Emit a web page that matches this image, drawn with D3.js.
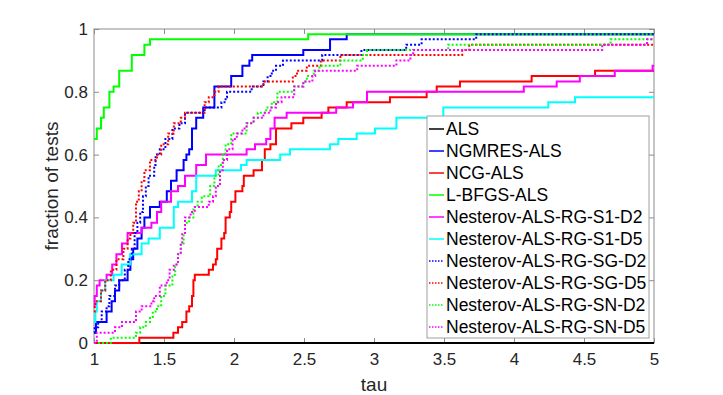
<!DOCTYPE html>
<meta charset="utf-8" />
<style>
  body { margin: 0; background: #fff; }
  text { font-family: "Liberation Sans", Arial, sans-serif; fill: #262626; }
  .tick text { font-size: 17px; }
  .tick line { stroke: #8c8c8c; }
  .domain { display: none; }
</style>
<svg width="723" height="395"></svg>
<script src="https://d3js.org/d3.v7.min.js"></script>
<script>
  // performance profile: [tau, fraction] step points, one array per solver
  var als = [[1, 0]];
  var ngmres = [[1, .033], [1.014, .067], [1.09, .10], [1.126, .133], [1.15, .167], [1.18, .20], [1.24, .233], [1.26, .267], [1.28, .30], [1.31, .333], [1.34, .367], [1.36, .40], [1.40, .433], [1.47, .45], [1.52, .483], [1.55, .517], [1.59, .55], [1.64, .583], [1.66, .60], [1.68, .617], [1.70, .683], [1.73, .717], [1.78, .75], [1.86, .817], [1.98, .85], [2.06, .883], [2.11, .90], [2.13, .917], [2.495, .933], [2.686, .967], [2.805, .983]];
  var ncg = [[1, 0], [1.324, .017], [1.567, .033], [1.60, .05], [1.63, .067], [1.66, .10], [1.68, .117], [1.70, .15], [1.71, .20], [1.72, .217], [1.82, .233], [1.85, .25], [1.87, .267], [1.88, .30], [1.91, .333], [1.93, .35], [1.94, .40], [1.97, .417], [1.98, .45], [2.01, .483], [2.06, .50], [2.07, .533], [2.14, .55], [2.20, .583], [2.22, .617], [2.26, .633], [2.30, .683], [2.41, .70], [2.495, .717], [2.626, .733], [2.674, .75], [2.805, .767], [3.114, .783], [3.376, .80], [3.448, .817], [3.614, .833], [4.126, .85], [4.579, .867]];
  var lbfgs = [[1, .65], [1.02, .683], [1.05, .717], [1.07, .75], [1.11, .80], [1.14, .817], [1.18, .867], [1.27, .917], [1.36, .95], [1.40, .967], [2.53, .983]];
  var s1d2 = [[1, .117], [1.005, .15], [1.02, .183], [1.04, .20], [1.09, .217], [1.13, .25], [1.16, .283], [1.20, .317], [1.24, .35], [1.34, .367], [1.41, .383], [1.45, .417], [1.48, .45], [1.55, .483], [1.60, .50], [1.65, .533], [1.73, .567], [1.80, .60], [2.09, .617], [2.15, .633], [2.23, .65], [2.26, .683], [2.29, .717], [2.376, .733], [2.73, .75], [2.85, .767], [2.95, .80], [4.07, .817], [4.305, .833], [4.47, .85], [4.72, .867], [4.99, .883]];
  var s1d5 = [[1, .067], [1.01, .10], [1.02, .133], [1.05, .167], [1.08, .20], [1.14, .217], [1.198, .25], [1.257, .283], [1.34, .317], [1.39, .333], [1.47, .367], [1.57, .433], [1.60, .45], [1.70, .483], [1.73, .533], [1.87, .55], [2.05, .567], [2.09, .583], [2.33, .60], [2.40, .617], [2.686, .633], [2.745, .65], [2.876, .667], [3.007, .683], [3.16, .717], [3.495, .75], [4.245, .767], [4.436, .783]];
  var sgd2 = [[1, .033], [1.005, .05], [1.03, .067], [1.055, .10], [1.09, .117], [1.11, .15], [1.15, .183], [1.18, .20], [1.22, .233], [1.245, .267], [1.27, .30], [1.29, .35], [1.31, .383], [1.33, .417], [1.35, .467], [1.37, .50], [1.39, .533], [1.43, .567], [1.44, .60], [1.47, .617], [1.51, .65], [1.56, .683], [1.61, .70], [1.65, .733], [1.79, .75], [1.91, .767], [1.94, .783], [1.95, .80], [2.126, .817], [2.21, .833], [2.24, .85], [2.27, .867], [2.30, .883], [2.35, .90], [2.63, .917], [2.91, .933], [3.23, .95], [3.34, .967], [3.73, .983]];
  var sgd5 = [[1, .10], [1.005, .117], [1.01, .133], [1.05, .167], [1.08, .20], [1.12, .233], [1.16, .267], [1.21, .30], [1.24, .333], [1.26, .35], [1.28, .383], [1.30, .45], [1.32, .483], [1.34, .517], [1.36, .55], [1.40, .583], [1.45, .60], [1.48, .633], [1.53, .667], [1.57, .70], [1.62, .717], [1.65, .733], [1.79, .767], [1.82, .783], [1.86, .80], [1.89, .817], [2.21, .833], [2.42, .85], [2.45, .867], [2.52, .883], [2.62, .90], [2.76, .917], [3.63, .933], [3.68, .95]];
  var snd2 = [[1, 0], [1.12, .017], [1.30, .033], [1.33, .05], [1.37, .067], [1.40, .083], [1.42, .10], [1.45, .117], [1.48, .15], [1.51, .183], [1.56, .217], [1.58, .25], [1.60, .283], [1.62, .317], [1.64, .35], [1.65, .383], [1.68, .40], [1.71, .433], [1.74, .45], [1.77, .467], [1.83, .50], [1.86, .533], [1.89, .567], [1.92, .60], [1.94, .633], [1.98, .667], [2.09, .70], [2.14, .717], [2.17, .733], [2.23, .75], [2.27, .767], [2.31, .80], [2.43, .817], [2.495, .833], [2.52, .85], [2.57, .867], [2.61, .883], [2.76, .90], [2.92, .917], [2.95, .933], [3.53, .95], [4.69, .967]];
  var snd5 = [[1, 0], [1.02, .033], [1.15, .05], [1.20, .067], [1.30, .10], [1.34, .117], [1.41, .133], [1.43, .15], [1.47, .183], [1.52, .20], [1.54, .233], [1.57, .25], [1.60, .283], [1.62, .317], [1.63, .35], [1.65, .40], [1.69, .417], [1.72, .433], [1.82, .45], [1.85, .467], [1.87, .50], [1.90, .55], [1.92, .583], [1.95, .617], [1.99, .65], [2.02, .667], [2.06, .683], [2.09, .70], [2.14, .717], [2.21, .733], [2.26, .75], [2.30, .767], [2.34, .783], [2.43, .817], [2.495, .833], [2.56, .85], [2.58, .867], [2.88, .883], [3.16, .90], [3.26, .917], [3.28, .933], [4.63, .95], [4.95, .967]];

  var names = ["ALS", "NGMRES-ALS", "NCG-ALS", "L-BFGS-ALS", "Nesterov-ALS-RG-S1-D2", "Nesterov-ALS-RG-S1-D5", "Nesterov-ALS-RG-SG-D2", "Nesterov-ALS-RG-SG-D5", "Nesterov-ALS-RG-SN-D2", "Nesterov-ALS-RG-SN-D5"];
  var colors = ["#000000", "#0000ff", "#ff0000", "#00ff00", "#ff00ff", "#00ffff", "#0000ff", "#ff0000", "#00ff00", "#ff00ff"];
  var dotted = [false, false, false, false, false, false, true, true, true, true];
  var profiles = [als, ngmres, ncg, lbfgs, s1d2, s1d5, sgd2, sgd5, snd2, snd5];

  var xTicks = [1, 1.5, 2, 2.5, 3, 3.5, 4, 4.5, 5];
  var yTicks = [0, 0.2, 0.4, 0.6, 0.8, 1];

  var svg = d3.select("svg");
  var plotL = 94, plotR = 654, plotT = 29, plotB = 343;

  var x = d3.scaleLinear().domain([1, 5]).range([plotL, plotR]);
  var y = d3.scaleLinear().domain([0, 1]).range([plotB, plotT]);

  svg.append("rect")
    .attr("x", plotL).attr("y", plotT)
    .attr("width", plotR - plotL).attr("height", plotB - plotT)
    .attr("fill", "none").attr("stroke", "#8c8c8c");

  svg.append("g").attr("transform", "translate(0," + plotB + ")")
    .call(d3.axisBottom(x).tickValues(xTicks).tickSize(-5).tickPadding(10).tickFormat(String));
  svg.append("g").attr("transform", "translate(0," + plotT + ")")
    .call(d3.axisTop(x).tickValues(xTicks).tickSize(-5).tickFormat(""));
  svg.append("g").attr("transform", "translate(" + plotL + ",0)")
    .call(d3.axisLeft(y).tickValues(yTicks).tickSize(-5).tickPadding(6).tickFormat(String));
  svg.append("g").attr("transform", "translate(" + plotR + ",0)")
    .call(d3.axisRight(y).tickValues(yTicks).tickSize(-5).tickFormat(""));

  var line = d3.line()
    .x(function (d) { return x(d[0]); })
    .y(function (d) { return y(d[1]); })
    .curve(d3.curveStepAfter);

  profiles.forEach(function (p, i) {
    var pts = p.concat([[5, p[p.length - 1][1]]]);
    svg.append("path")
      .datum(pts)
      .attr("fill", "none")
      .attr("stroke", colors[i])
      .attr("stroke-width", 2)
      .attr("stroke-dasharray", dotted[i] ? "2,2" : null)
      .attr("d", line);
  });

  svg.append("text")
    .attr("x", (plotL + plotR) / 2).attr("y", 391)
    .attr("text-anchor", "middle")
    .style("font-size", "19px")
    .text("tau");

  svg.append("text")
    .attr("transform", "translate(58," + (plotT + plotB) / 2 + ") rotate(-90)")
    .attr("text-anchor", "middle")
    .style("font-size", "19px")
    .text("fraction of tests");

  // legend
  var lg = svg.append("g");
  lg.append("rect")
    .attr("x", 427).attr("y", 116).attr("width", 222).attr("height", 222)
    .attr("fill", "#fff").attr("stroke", "#a0a0a0");
  names.forEach(function (n, i) {
    var ly = 129 + i * 22;
    lg.append("line")
      .attr("x1", 429).attr("x2", 444).attr("y1", ly).attr("y2", ly)
      .attr("stroke", colors[i]).attr("stroke-width", 1.5)
      .attr("stroke-dasharray", dotted[i] ? "1.5,1.5" : null);
    lg.append("text")
      .attr("x", 446).attr("y", ly)
      .attr("dy", "0.35em")
      .style("font-size", "17.5px")
      .style("fill", "#000")
      .text(n);
  });
</script>
